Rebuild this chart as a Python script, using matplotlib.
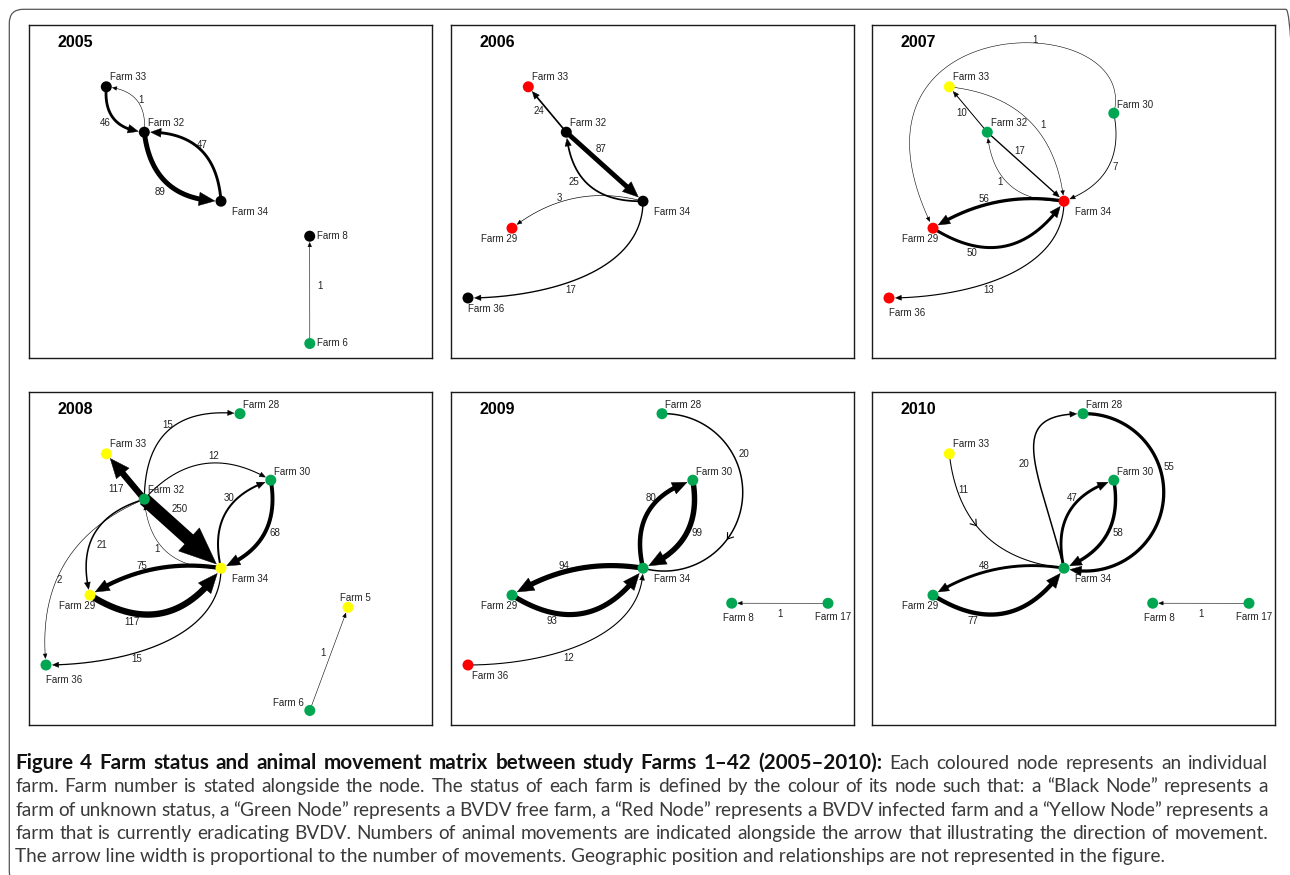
import numpy as np
import matplotlib
matplotlib.use("Agg")
from matplotlib import pyplot as plt
from matplotlib.patches import Circle, Polygon, FancyBboxPatch
from matplotlib.transforms import IdentityTransform

plt.rcParams['font.family'] = ['Liberation Sans', 'DejaVu Sans']

W, H = 1290, 875
PW, PH = 403, 333          # panel size in pixels
R_NODE = 5.5

status_colour = {"unknown": "#000000", "free": "#00a651",
                 "infected": "#ff0000", "eradicating": "#ffff00"}

# network layout, same for every year (pixels inside a panel, y down)
layout = {
    "Farm 5": (319, 215.3), "Farm 6": (280.8, 318.5), "Farm 8": (280.7, 211.2),
    "Farm 17": (377, 211.3), "Farm 28": (211, 21.7), "Farm 29": (61, 203.2),
    "Farm 30": (241.8, 88.2), "Farm 32": (115.3, 107.2), "Farm 33": (77.3, 61.8),
    "Farm 34": (192, 176.2), "Farm 36": (17, 273),
}

years = [2005, 2006, 2007, 2008, 2009, 2010]

status_2005 = {"Farm 33": "unknown", "Farm 32": "unknown", "Farm 34": "unknown",
               "Farm 8": "unknown", "Farm 6": "free"}
moves_2005 = [("Farm 33", "Farm 32", 46), ("Farm 32", "Farm 33", 1),
              ("Farm 32", "Farm 34", 89), ("Farm 34", "Farm 32", 47),
              ("Farm 6", "Farm 8", 1)]

status_2006 = {"Farm 33": "infected", "Farm 32": "unknown", "Farm 34": "unknown",
               "Farm 29": "infected", "Farm 36": "unknown"}
moves_2006 = [("Farm 32", "Farm 33", 24), ("Farm 32", "Farm 34", 87),
              ("Farm 34", "Farm 32", 25), ("Farm 34", "Farm 29", 3),
              ("Farm 34", "Farm 36", 17)]

status_2007 = {"Farm 33": "eradicating", "Farm 32": "free", "Farm 30": "free",
               "Farm 34": "infected", "Farm 29": "infected", "Farm 36": "infected"}
moves_2007 = [("Farm 30", "Farm 29", 1), ("Farm 33", "Farm 34", 1),
              ("Farm 32", "Farm 33", 10), ("Farm 32", "Farm 34", 17),
              ("Farm 34", "Farm 32", 1), ("Farm 30", "Farm 34", 7),
              ("Farm 34", "Farm 29", 56), ("Farm 29", "Farm 34", 50),
              ("Farm 34", "Farm 36", 13)]

status_2008 = {"Farm 28": "free", "Farm 33": "eradicating", "Farm 30": "free",
               "Farm 32": "free", "Farm 34": "eradicating", "Farm 29": "eradicating",
               "Farm 5": "eradicating", "Farm 36": "free", "Farm 6": "free"}
moves_2008 = [("Farm 32", "Farm 28", 15), ("Farm 32", "Farm 33", 117),
              ("Farm 32", "Farm 30", 12), ("Farm 32", "Farm 34", 250),
              ("Farm 34", "Farm 32", 1), ("Farm 32", "Farm 29", 21),
              ("Farm 32", "Farm 36", 2), ("Farm 34", "Farm 30", 30),
              ("Farm 30", "Farm 34", 68), ("Farm 34", "Farm 29", 75),
              ("Farm 29", "Farm 34", 117), ("Farm 34", "Farm 36", 15),
              ("Farm 6", "Farm 5", 1)]

status_2009 = {"Farm 28": "free", "Farm 30": "free", "Farm 34": "free",
               "Farm 29": "free", "Farm 8": "free", "Farm 17": "free",
               "Farm 36": "infected"}
moves_2009 = [("Farm 28", "Farm 34", 20), ("Farm 34", "Farm 30", 80),
              ("Farm 30", "Farm 34", 99), ("Farm 34", "Farm 29", 94),
              ("Farm 29", "Farm 34", 93), ("Farm 36", "Farm 34", 12),
              ("Farm 17", "Farm 8", 1)]

status_2010 = {"Farm 28": "free", "Farm 33": "eradicating", "Farm 30": "free",
               "Farm 34": "free", "Farm 29": "free", "Farm 8": "free",
               "Farm 17": "free"}
moves_2010 = [("Farm 34", "Farm 28", 20), ("Farm 28", "Farm 34", 55),
              ("Farm 33", "Farm 34", 11), ("Farm 34", "Farm 30", 47),
              ("Farm 30", "Farm 34", 58), ("Farm 34", "Farm 29", 48),
              ("Farm 29", "Farm 34", 77), ("Farm 17", "Farm 8", 1)]

status = dict(zip(years, [status_2005, status_2006, status_2007,
                          status_2008, status_2009, status_2010]))
moves = dict(zip(years, [moves_2005, moves_2006, moves_2007,
                         moves_2008, moves_2009, moves_2010]))

# edge drawing style: (curve shape, label position along curve, label offset)
edge_style = {
    ("Farm 32", "Farm 33"): (("line",), 0.55, -8),
    ("Farm 32", "Farm 34"): (("line",), 0.35, -9),
    ("Farm 34", "Farm 32"): (("bend", -0.47), 0.6, -6),
    ("Farm 34", "Farm 29"): (("bend", 0.19), 0.58, 6),
    ("Farm 29", "Farm 34"): (("bend", 0.48), 0.25, 9),
    ("Farm 34", "Farm 36"): (("cubic", 270, 0.37, 0, 0.35), 0.57, -7),
    ("Farm 36", "Farm 34"): (("cubic", 0, 0.35, 270, 0.37), 0.42, 8),
    ("Farm 34", "Farm 30"): (("bend", -0.46), 0.65, -7),
    ("Farm 30", "Farm 34"): (("bend", -0.41), 0.43, -9),
    ("Farm 6", "Farm 8"): (("line",), 0.54, 10),
    ("Farm 6", "Farm 5"): (("line",), 0.535, -8),
    ("Farm 17", "Farm 8"): (("line",), 0.5, -10),
    ("Farm 33", "Farm 32"): (("bend", 0.5), 0.46, 9),
    ("Farm 30", "Farm 29"): (("cubic", 75.5, 0.52, 116.4, 1.163), 0.38, 4),
    ("Farm 32", "Farm 28"): (("bend", -0.55), 0.53, -5),
    ("Farm 32", "Farm 30"): (("bend", -0.41), 0.585, -7),
    ("Farm 32", "Farm 29"): (("bend", 0.48), 0.55, -12),
    ("Farm 32", "Farm 36"): (("bend", 0.37), 0.584, -3),
    ("Farm 28", "Farm 34"): (("arc", -197), 0.334, -10),
    ("Farm 34", "Farm 28"): (("cubic", 105, 0.7, 180, 0.5), 0.42, -12),
    ("Farm 33", "Farm 34"): (("bend", -0.4), 0.575, -8),
}
edge_style_year = {
    (2005, "Farm 32", "Farm 33"): (("bend", 0.5), 0.45, 4),
    (2005, "Farm 32", "Farm 34"): (("bend", 0.44), 0.5, 11),
    (2005, "Farm 34", "Farm 32"): (("bend", 0.48), 0.5, 5),
    (2006, "Farm 32", "Farm 33"): (("line",), 0.57, -7),
    (2006, "Farm 32", "Farm 34"): (("line",), 0.35, -11),
    (2006, "Farm 34", "Farm 32"): (("bend", -0.47), 0.63, -9),
    (2006, "Farm 34", "Farm 29"): (("bend", 0.25), 0.61, 5),
    (2007, "Farm 30", "Farm 34"): (("bend", -0.43), 0.45, -6),
    (2007, "Farm 32", "Farm 33"): (("line",), 0.54, -7),
    (2007, "Farm 32", "Farm 34"): (("line",), 0.35, -8),
    (2007, "Farm 34", "Farm 32"): (("bend", -0.47), 0.59, -5),
    (2007, "Farm 29", "Farm 34"): (("bend", 0.48), 0.25, 8),
    (2007, "Farm 34", "Farm 36"): (("cubic", 270, 0.37, 0, 0.35), 0.58, -7),
    (2008, "Farm 32", "Farm 33"): (("line",), 0.45, -15),
    (2008, "Farm 32", "Farm 34"): (("line",), 0.31, -17),
    (2008, "Farm 34", "Farm 32"): (("bend", -0.47), 0.59, -5),
    (2008, "Farm 34", "Farm 36"): (("cubic", 270, 0.37, 0, 0.35), 0.62, -6),
    (2008, "Farm 29", "Farm 34"): (("bend", 0.48), 0.27, 9),
    (2010, "Farm 33", "Farm 34"): (("bend", 0.4), 0.22, -7),
    (2010, "Farm 28", "Farm 34"): (("arc", -197), 0.376, -9),
}
# edges drawn with an open mid-line arrowhead instead of a head at the end
chevrons = {(2009, "Farm 28", "Farm 34"): 0.65, (2010, "Farm 33", "Farm 34"): 0.43}

# farm name placement: dx, dy (text centre) and alignment
name_place = {
    "Farm 5": (7, -10, "center"), "Farm 6": (7, -1, "left"),
    "Farm 8": (7, -1, "left"), "Farm 17": (5.5, 13.3, "center"),
    "Farm 28": (3, -9, "left"), "Farm 29": (-13, 10.7, "center"),
    "Farm 30": (3.3, -9, "left"), "Farm 32": (3.3, -9.3, "left"),
    "Farm 33": (3.5, -10, "left"), "Farm 34": (11, 10.7, "left"),
    "Farm 36": (0, 11, "left"),
}
name_place_year = {
    (2008, "Farm 6"): (-6, -8, "right"),
    (2009, "Farm 8"): (6.8, 14, "center"), (2010, "Farm 8"): (6.8, 14, "center"),
    (2007, "Farm 36"): (0, 14, "left"), (2008, "Farm 36"): (0, 14.5, "left"),
    (2009, "Farm 36"): (3.7, 10.7, "left"),
}

panel_left = [29, 451, 872]
panel_top = [25, 392]


def curve_points(p0, p1, shape, n=400):
    p0 = np.asarray(p0, float)
    p1 = np.asarray(p1, float)
    d = p1 - p0
    L = np.hypot(d[0], d[1])
    u = d / L
    nv = np.array([-u[1], u[0]])
    t = np.linspace(0, 1, n)[:, None]
    kind = shape[0]
    if kind == "line":
        pts = p0 + t * d
    elif kind == "bend":
        q = (p0 + p1) / 2 + shape[1] * L * nv
        pts = (1 - t) ** 2 * p0 + 2 * t * (1 - t) * q + t ** 2 * p1
    elif kind == "cubic":
        a0, l0 = np.radians(shape[1]), shape[2]
        a1, l1 = np.radians(shape[3]), shape[4]
        c1 = p0 + l0 * L * np.array([np.cos(a0), -np.sin(a0)])
        c2 = p1 + l1 * L * np.array([np.cos(a1), -np.sin(a1)])
        pts = ((1 - t) ** 3 * p0 + 3 * (1 - t) ** 2 * t * c1
               + 3 * (1 - t) * t ** 2 * c2 + t ** 3 * p1)
    else:
        sweep = np.radians(abs(shape[1]))
        side = np.sign(shape[1])
        rad = L / (2 * np.sin(sweep / 2))
        c = (p0 + p1) / 2 - side * nv * rad * np.cos(sweep / 2)
        a0 = np.arctan2(p0[1] - c[1], p0[0] - c[0])
        a1 = np.arctan2(p1[1] - c[1], p1[0] - c[0])
        ab = np.arctan2(side * nv[1], side * nv[0])
        span = (a1 - a0) % (2 * np.pi)
        if (ab - a0) % (2 * np.pi) > span:
            span -= 2 * np.pi
        ang = a0 + t[:, 0] * span
        pts = np.column_stack([c[0] + rad * np.cos(ang), c[1] + rad * np.sin(ang)])
    return pts, nv


def tangent(pts, i):
    tg = pts[min(i + 1, len(pts) - 1)] - pts[max(i - 1, 0)]
    return tg / np.hypot(tg[0], tg[1])


def draw_move(ax, p0, p1, w, shape, lab_t, lab_off, chevron=None):
    pts, nv = curve_points(p0, p1, shape)
    lw = 0.5 + w / 20.0
    hw = 2.5 + 2.2 * lw
    hl = 3.0 + 2.6 * lw
    i = int(round(lab_t * (len(pts) - 1)))
    if shape[0] == "arc":
        tg = tangent(pts, i)
        nl = np.array([-tg[1], tg[0]])
    else:
        nl = nv
    lab = pts[i] + lab_off * nl
    ax.text(lab[0], lab[1] + 3.5, str(w), fontsize=7, color="#222222",
            ha="center", va="baseline", zorder=6)
    if chevron is None:
        dist = np.hypot(*(pts - np.asarray(p1)).T)
        pts = pts[: np.nonzero(dist >= R_NODE + 0.5)[0][-1] + 1]
        tip = pts[-1]
        back = np.hypot(*(pts - tip).T)
        j = np.nonzero(back >= hl)[0][-1]
        dv = tip - pts[j]
        dv /= np.hypot(dv[0], dv[1])
        pv = np.array([-dv[1], dv[0]])
        base = tip - hl * dv
        ax.add_patch(Polygon([tip, base + pv * hw / 2, base - pv * hw / 2],
                             closed=True, fc="k", ec="k", lw=0.3, zorder=2))
        k = np.nonzero(back >= 0.6 * hl)[0][-1]
        body = pts[: k + 1]
    else:
        body = pts
        k = int(round(chevron * (len(pts) - 1)))
        tg = tangent(pts, k)
        for sgn in (1, -1):
            a = np.radians(35) * sgn
            rot = np.array([tg[0] * np.cos(a) - tg[1] * np.sin(a),
                            tg[0] * np.sin(a) + tg[1] * np.cos(a)])
            arm = np.vstack([pts[k], pts[k] - 6.5 * rot])
            ax.plot(arm[:, 0], arm[:, 1], color="k", lw=0.8, zorder=2,
                    solid_capstyle="round")
    ax.plot(body[:, 0], body[:, 1], color="k", lw=lw * 0.72,
            solid_capstyle="butt", solid_joinstyle="round", zorder=2)


fig = plt.figure(figsize=(W / 100, H / 100), dpi=100)

for idx, year in enumerate(years):
    x0 = panel_left[idx % 3]
    y0 = panel_top[idx // 3]
    ax = fig.add_axes([x0 / W, 1 - (y0 + PH) / H, PW / W, PH / H])
    ax.set_xlim(0, PW)
    ax.set_ylim(PH, 0)
    ax.set_xticks([])
    ax.set_yticks([])
    for sp in ax.spines.values():
        sp.set_linewidth(1.0)
        sp.set_color("#1a1a1a")
    ax.text(28.5, 22.2, str(year), fontsize=11.5, fontweight="bold",
            ha="left", va="baseline")

    for src, dst, w in moves[year]:
        shape, lt, lo = edge_style_year.get((year, src, dst), edge_style[(src, dst)])
        draw_move(ax, layout[src], layout[dst], w, shape, lt, lo,
                  chevrons.get((year, src, dst)))

    for farm, st in status[year].items():
        x, y = layout[farm]
        ax.add_patch(Circle((x, y), R_NODE, fc=status_colour[st], ec="none", zorder=5))
        dx, dy, ha = name_place_year.get((year, farm), name_place[farm])
        ax.text(x + dx, y + dy + 3.5, farm, fontsize=7, color="#222222",
                ha=ha, va="baseline", zorder=6)

# outer frame
fig.add_artist(FancyBboxPatch((9.3, -10), 1300 - 9.3, 875.7,
                              boxstyle="round,pad=0,rounding_size=14",
                              transform=IdentityTransform(), fill=False,
                              ec="#555555", lw=0.9))

# caption
cap_bold = "Figure 4 Farm status and animal movement matrix between study Farms 1\u201342 (2005\u20132010):"
cap_lines = [
    "Each coloured node represents an individual",
    "farm. Farm number is stated alongside the node. The status of each farm is defined by the colour of its node such that: a \u201cBlack Node\u201d represents a",
    "farm of unknown status, a \u201cGreen Node\u201d represents a BVDV free farm, a \u201cRed Node\u201d represents a BVDV infected farm and a \u201cYellow Node\u201d represents a",
    "farm that is currently eradicating BVDV. Numbers of animal movements are indicated alongside the arrow that illustrating the direction of movement.",
    "The arrow line width is proportional to the number of movements. Geographic position and relationships are not represented in the figure.",
]
cap_font = ["Lato", "DejaVu Sans"]
renderer = fig.canvas.get_renderer()


def text_width(s, size, weight="normal"):
    t = fig.text(0, 0, s, fontsize=size, fontweight=weight, family=cap_font)
    wd = t.get_window_extent(renderer).width
    t.remove()
    return wd


x_left, x_right = 15, 1268
fs = 12 * (1152 / text_width(cap_lines[-1], 12))
fs_bold = fs * 912 / text_width(cap_bold, fs, "bold")
fs_bold = min(max(fs_bold, 0.95 * fs), 1.08 * fs)
base_y = [769 + 23.3 * i for i in range(5)]

for li in range(5):
    words = []
    if li == 0:
        words += [(wd, "bold", "#111111", fs_bold) for wd in cap_bold.split(" ")]
    words += [(wd, "normal", "#3a3a3a", fs) for wd in cap_lines[li].split(" ")]
    if li == 4:
        fig.text(x_left / W, 1 - base_y[li] / H, cap_lines[li], fontsize=fs,
                 family=cap_font, color="#3a3a3a", va="baseline")
        continue
    widths = [text_width(wd, sz, wt) for wd, wt, _, sz in words]
    gap = (x_right - x_left - sum(widths)) / (len(words) - 1)
    x = x_left
    for (wd, wt, col, sz), ww in zip(words, widths):
        fig.text(x / W, 1 - base_y[li] / H, wd, fontsize=sz, fontweight=wt,
                 family=cap_font, color=col, va="baseline")
        x += ww + gap

fig.savefig("out.png", dpi=100)
